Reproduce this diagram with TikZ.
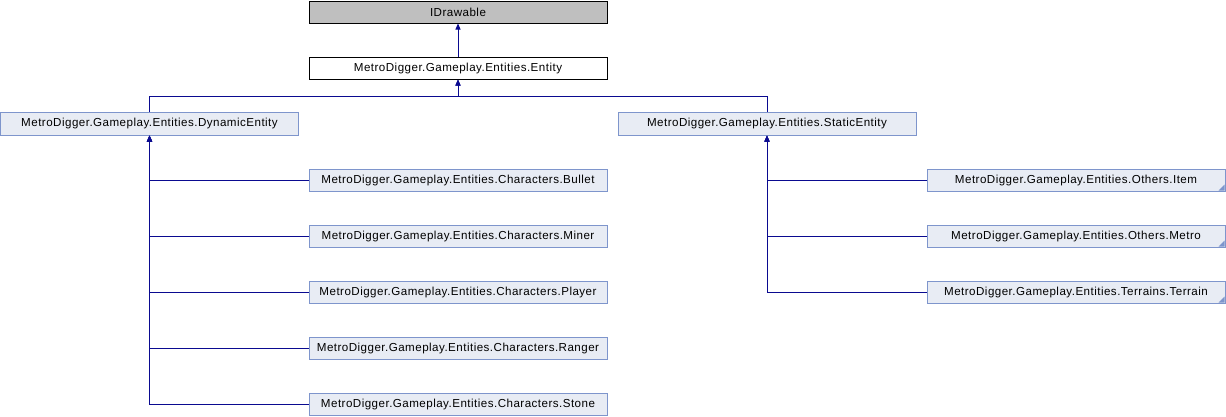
\documentclass[tikz,border=0pt]{standalone}
\usepackage{fontspec}
\setmainfont{Liberation Sans}[LetterSpace=4]
\usetikzlibrary{arrows.meta}
\definecolor{edgecol}{HTML}{0A0A90}
\definecolor{nodefill}{HTML}{E8ECF4}
\definecolor{nodeborder}{HTML}{7E95CC}
\definecolor{topfill}{HTML}{BFBFBF}
\begin{document}
\begin{tikzpicture}[x=1pt,y=-1pt,
  base/.style={draw, line width=1pt, minimum width=298pt, minimum height=22pt, inner sep=0pt,
    font=\fontsize{11.6}{13}\selectfont},
  cls/.style={base, draw=nodeborder, fill=nodefill},
  cornered/.style={cls, path picture={\fill[nodeborder] ([xshift=-0.5pt,yshift=0.5pt]path picture bounding box.south east) -- ++(-6pt,0pt) -- ++(6pt,6pt) -- cycle;}},
  edge/.style={draw=edgecol, line width=1pt, -{Triangle[length=6pt,width=5pt]}}
]
\useasboundingbox (0,0) rectangle (1226,416);
\node[base, fill=topfill, draw=black] (idr) at (458,12) {IDrawable};
\node[base, fill=white, draw=black] (ent) at (458,68) {MetroDigger.Gameplay.Entities.Entity};
\node[cls, minimum height=23pt] (dyn) at (149.5,123.5) {MetroDigger.Gameplay.Entities.DynamicEntity};
\node[cls, minimum height=23pt] (sta) at (767,123.5) {MetroDigger.Gameplay.Entities.StaticEntity};
\node[cls] (bul) at (458,180) {MetroDigger.Gameplay.Entities.Characters.Bullet};
\node[cls] (min) at (458,236) {MetroDigger.Gameplay.Entities.Characters.Miner};
\node[cls] (pla) at (458,292) {MetroDigger.Gameplay.Entities.Characters.Player};
\node[cls] (ran) at (458,348) {MetroDigger.Gameplay.Entities.Characters.Ranger};
\node[cls] (sto) at (458,404) {MetroDigger.Gameplay.Entities.Characters.Stone};
\node[cornered] (ite) at (1076,180) {MetroDigger.Gameplay.Entities.Others.Item};
\node[cornered] (met) at (1076,236) {MetroDigger.Gameplay.Entities.Others.Metro};
\node[cornered] (ter) at (1076,292) {MetroDigger.Gameplay.Entities.Terrains.Terrain};
\coordinate (jn) at (458,96);
\draw[edge] (ent) -- (idr);
\draw[edge] (dyn.north) |- (jn) -- (ent.south);
\draw[edge] (sta.north) |- (jn) -- (ent.south);
\foreach \c in {bul,min,pla,ran,sto} \draw[edge] (\c.west) -| (dyn.south);
\foreach \c in {ite,met,ter} \draw[edge] (\c.west) -| (sta.south);
\end{tikzpicture}
\end{document}
